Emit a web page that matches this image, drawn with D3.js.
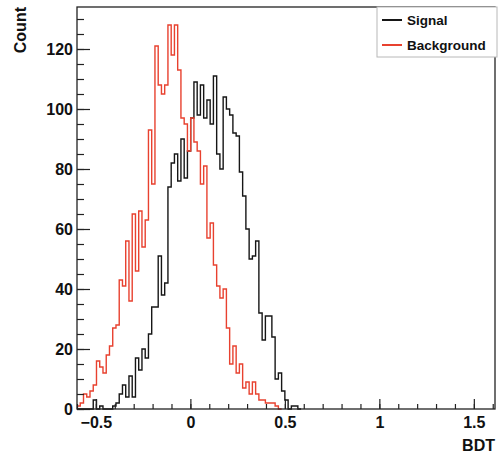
<!DOCTYPE html>
<html>
<head>
<meta charset="utf-8">
<script src="https://cdn.jsdelivr.net/npm/d3@7"></script>
<style>
  html, body { margin: 0; padding: 0; background: #fff; }
  svg text { font-family: "Liberation Sans", Arial, Helvetica, sans-serif; font-weight: bold; }
</style>
</head>
<body>
<svg id="chart" width="498" height="455"></svg>
<script>
// histogram binning (128 bins over [-0.6, 1.6])
const binLow = -0.6
const binWidth = 2.2 / 128

// bin contents, starting at binLow
const signalCounts = [
  0, 0, 0, 0, 0, 3, 0, 1, 0, 0,
  0, 1, 2, 5, 8, 4, 11, 4, 17, 13,
  20, 17, 25, 34, 34, 51, 38, 42, 74, 82,
  85, 76, 90, 77, 86, 97, 109, 98, 108, 97,
  103, 95, 111, 85, 80, 104, 100, 98, 92, 91,
  79, 71, 60, 50, 51, 56, 32, 23, 31, 31,
  24, 10, 12, 6, 3, 0, 1, 1, 0
]
const backgroundCounts = [
  1, 2, 5, 4, 6, 8, 16, 14, 12, 18,
  21, 27, 28, 43, 41, 56, 36, 65, 46, 66,
  54, 63, 93, 75, 121, 108, 105, 108, 128, 118,
  128, 113, 97, 95, 86, 97, 89, 86, 75, 81,
  57, 62, 48, 41, 37, 40, 27, 15, 21, 12,
  15, 7, 9, 5, 9, 5, 3, 3, 2, 2,
  2, 1, 0
]

const xMajorTicks = [-0.5, 0, 0.5, 1, 1.5]
const yMajorTicks = [0, 20, 40, 60, 80, 100, 120]
const legendLabels = ['Signal', 'Background']
const seriesColors = ['#161616', '#e8412f']

const frame = { left: 77, top: 7, right: 495, bottom: 409 }

const svg = d3.select('#chart')

const x = d3.scaleLinear()
  .domain([-0.6, 1.612])
  .range([frame.left, frame.right])

const y = d3.scaleLinear()
  .domain([0, 134])
  .range([frame.bottom, frame.top])

function stepPoints (counts) {
  const pts = counts.map((c, i) => [binLow + i * binWidth, c])
  pts.push([binLow + counts.length * binWidth, 0])
  return pts
}

function drawAxes () {
  const fmt = d3.format('~g')

  // minor ticks first, then major with labels
  svg.append('g')
    .attr('transform', `translate(${frame.left},0)`)
    .call(d3.axisLeft(y).tickValues(d3.range(0, 135, 5)).tickSize(-7).tickFormat(''))
  svg.append('g')
    .attr('transform', `translate(${frame.left},0)`)
    .call(d3.axisLeft(y).tickValues(yMajorTicks).tickSize(-13).tickPadding(4))

  svg.append('g')
    .attr('transform', `translate(0,${frame.bottom})`)
    .call(d3.axisBottom(x).tickValues(d3.range(-6, 17).map(d => d / 10)).tickSize(-5).tickFormat(''))
  svg.append('g')
    .attr('transform', `translate(0,${frame.bottom})`)
    .call(d3.axisBottom(x).tickValues(xMajorTicks).tickSize(-10).tickPadding(8).tickFormat(fmt))

  svg.selectAll('.domain').remove()
  svg.selectAll('.tick line').attr('stroke', '#222').attr('stroke-width', 1.2)
  svg.selectAll('.tick text')
    .attr('fill', '#111')
    .style('font-size', '16px')

  svg.append('text')
    .attr('x', frame.right)
    .attr('y', 451)
    .attr('text-anchor', 'end')
    .style('font-size', '16px')
    .attr('fill', '#111')
    .text('BDT')

  svg.append('text')
    .attr('transform', `translate(26,${frame.top}) rotate(-90)`)
    .attr('text-anchor', 'end')
    .style('font-size', '16px')
    .attr('fill', '#111')
    .text('Count')
}

function drawHistograms () {
  const line = d3.line()
    .x(d => x(d[0]))
    .y(d => y(d[1]))
    .curve(d3.curveStepAfter)

  const series = [signalCounts, backgroundCounts]
  svg.append('g')
    .selectAll('path')
    .data(series)
    .enter()
    .append('path')
    .attr('d', d => line(stepPoints(d)))
    .attr('fill', 'none')
    .attr('stroke', (d, i) => seriesColors[i])
    .attr('stroke-width', 1.4)
}

function drawFrame () {
  svg.append('rect')
    .attr('x', frame.left)
    .attr('y', frame.top)
    .attr('width', frame.right - frame.left)
    .attr('height', frame.bottom - frame.top)
    .attr('fill', 'none')
    .attr('stroke', '#222')
    .attr('stroke-width', 1.3)
}

function drawLegend () {
  const g = svg.append('g')
  g.append('rect')
    .attr('x', 377)
    .attr('y', 7)
    .attr('width', 120)
    .attr('height', 50)
    .attr('fill', '#fff')
    .attr('stroke', '#b8b8b8')
    .attr('stroke-width', 1)

  const items = g.selectAll('g.entry')
    .data(legendLabels)
    .enter()
    .append('g')
    .attr('class', 'entry')
    .attr('transform', (d, i) => `translate(0,${20 + i * 25})`)

  items.append('line')
    .attr('x1', 382)
    .attr('x2', 402)
    .attr('stroke', (d, i) => seriesColors[i])
    .attr('stroke-width', 2)

  items.append('text')
    .attr('x', 407)
    .attr('y', 4.6)
    .style('font-size', '13.5px')
    .attr('fill', '#111')
    .text(d => d)
}

drawHistograms()
drawFrame()
drawAxes()
drawLegend()
</script>
</body>
</html>
